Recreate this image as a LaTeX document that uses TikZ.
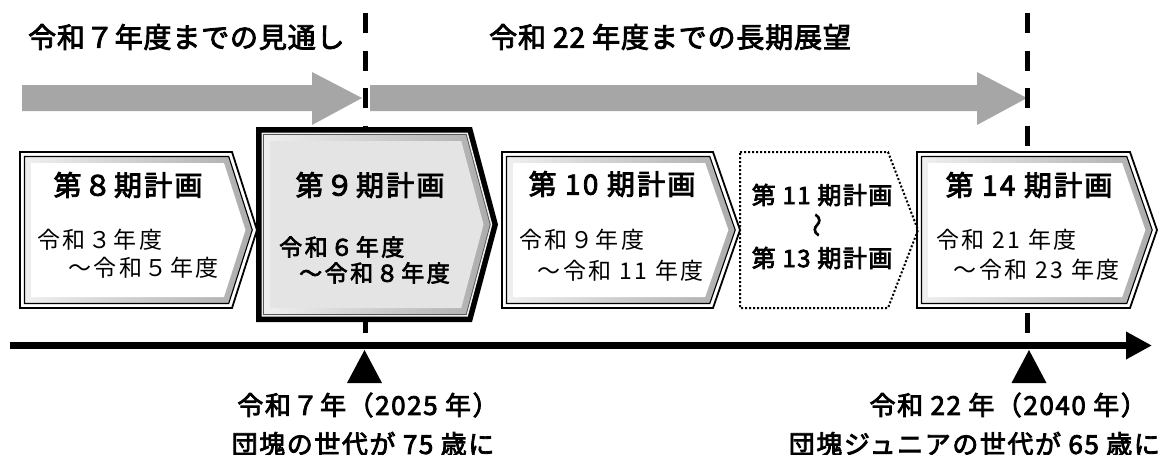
\documentclass[tikz,border=0pt]{standalone}
\usepackage{fontspec}
\setmainfont{Noto Sans CJK JP}
\newfontfamily\jpT[LetterSpace=3, FakeBold=3]{Noto Sans CJK JP}
\newfontfamily\jpB[LetterSpace=8, FakeBold=3]{Noto Sans CJK JP}
\newfontfamily\jpS[LetterSpace=11]{Noto Sans CJK JP}
\newfontfamily\jpSb[LetterSpace=11, FakeBold=3]{Noto Sans CJK JP}
\newfontfamily\jpD[LetterSpace=6, FakeBold=3]{Noto Sans CJK JP}
\usetikzlibrary{arrows.meta}
\definecolor{arrowgray}{HTML}{A6A6A6}
\definecolor{facegray}{HTML}{E4E4E4}
\newcommand{\insetpts}[6]{%
 \pgfmathsetmacro\bxM{(#2+#3)/2}%
 \pgfmathsetmacro\bxdx{#5-#4}%
 \pgfmathsetmacro\bxdy{\bxM-#2}%
 \pgfmathsetmacro\bxs{#6*sqrt(\bxdx*\bxdx+\bxdy*\bxdy)/\bxdy}%
 \pgfmathsetmacro\bxR{#4-\bxs+#6*\bxdx/\bxdy}%
 \pgfmathsetmacro\bxX{#5-\bxs}%
 \pgfmathsetmacro\bxL{#1+#6}%
 \pgfmathsetmacro\bxT{#2+#6}%
 \pgfmathsetmacro\bxB{#3-#6}%
}
\newcommand{\plainbox}[6]{%
 \insetpts{#2}{#3}{#4}{#5}{#6}{0}%
 \fill[white] (\bxL,\bxT) -- (\bxR,\bxT) -- (\bxX,\bxM) -- (\bxR,\bxB) -- (\bxL,\bxB) -- cycle;
 \draw[line width=1.8, line join=miter] (\bxL,\bxT) -- (\bxR,\bxT) -- (\bxX,\bxM) -- (\bxR,\bxB) -- (\bxL,\bxB) -- cycle;
 \coordinate (#1) at (\bxL,\bxM);
 \insetpts{#2}{#3}{#4}{#5}{#6}{4.5}%
 \shade[left color=gray!12, right color=gray!65] (\bxL,\bxT) -- (\bxR,\bxT) -- (\bxX,\bxM) -- (\bxR,\bxB) -- (\bxL,\bxB) -- cycle;
 \draw[line width=1.1, line join=miter] (\bxL,\bxT) -- (\bxR,\bxT) -- (\bxX,\bxM) -- (\bxR,\bxB) -- (\bxL,\bxB) -- cycle;
 \insetpts{#2}{#3}{#4}{#5}{#6}{11}%
 \fill[white] (\bxL,\bxT) -- (\bxR,\bxT) -- (\bxX,\bxM) -- (\bxR,\bxB) -- (\bxL,\bxB) -- cycle;
}
\tikzset{
 title/.style={font=\jpT\fontsize{28}{30}\selectfont, inner sep=0},
 boxttl/.style={font=\jpB\fontsize{28}{30}\selectfont, inner sep=0},
 boxsub/.style={font=\jpS\fontsize{23}{26}\selectfont, inner sep=0},
 boxsubb/.style={font=\jpSb\fontsize{23}{26}\selectfont, inner sep=0},
 midttl/.style={font=\jpD\fontsize{24}{26}\selectfont, inner sep=0},
 bottxt/.style={font=\jpD\fontsize{26}{28}\selectfont, inner sep=0},
 bigarrow/.style={fill=arrowgray},
 divider/.style={line width=5, dash pattern=on 20pt off 17.5pt},
 marker/.style={fill=black},
}
\begin{document}
\begin{tikzpicture}[x=1pt,y=-1pt]
\useasboundingbox (0,0) rectangle (1176,455);
% gray arrows
\fill[bigarrow] (22,85) -- (312,85) -- (312,72) -- (362,98) -- (312,125) -- (312,111) -- (22,111) -- cycle;
\fill[bigarrow] (370,85) -- (977,85) -- (977,72) -- (1027,98) -- (977,125) -- (977,111) -- (370,111) -- cycle;
% dashed dividers
\coordinate (d1a) at (365,13); \coordinate (d1b) at (365,333);
\coordinate (d2a) at (1027,13); \coordinate (d2b) at (1027,333);
\draw[divider] (d1a) -- (d1b);
\draw[divider] (d2a) -- (d2b);
% boxes
\plainbox{b8}{20}{152}{308}{232}{257}
\plainbox{b10}{502}{152}{308}{713}{740}
\plainbox{b14}{917}{152}{308}{1130}{1157}
% box 9 (highlighted)
\insetpts{256}{127}{322}{472}{498}{0}
\fill[black] (\bxL,\bxT) -- (\bxR,\bxT) -- (\bxX,\bxM) -- (\bxR,\bxB) -- (\bxL,\bxB) -- cycle;
\coordinate (b9) at (\bxL,\bxM);
\insetpts{256}{127}{322}{472}{498}{5.5}
\fill[gray!12] (\bxL,\bxT) -- (\bxR,\bxT) -- (\bxX,\bxM) -- (\bxR,\bxB) -- (\bxL,\bxB) -- cycle;
\insetpts{256}{127}{322}{472}{498}{7.5}
\shade[left color=gray!12, right color=gray!65] (\bxL,\bxT) -- (\bxR,\bxT) -- (\bxX,\bxM) -- (\bxR,\bxB) -- (\bxL,\bxB) -- cycle;
\draw[line width=0.8, gray!70!black] (\bxL,\bxT) -- (\bxR,\bxT) -- (\bxX,\bxM) -- (\bxR,\bxB) -- (\bxL,\bxB) -- cycle;
\insetpts{256}{127}{322}{472}{498}{14}
\fill[facegray] (\bxL,\bxT) -- (\bxR,\bxT) -- (\bxX,\bxM) -- (\bxR,\bxB) -- (\bxL,\bxB) -- cycle;
% dotted box 11-13
\draw[line width=2, dash pattern=on 2pt off 2pt] (740,152) -- (888,152) -- (918,230) -- (888,308) -- (740,308) -- cycle;
% timeline
\coordinate (tl0) at (10,345.5);
\coordinate (tl1) at (1152,345.5);
\draw[line width=7, -{Triangle[length=26pt,width=26pt]}] (tl0) -- (tl1);
\fill[marker] (364.5,350) -- (382,383) -- (347,383) -- cycle;
\fill[marker] (1029,350) -- (1046.5,383) -- (1011.5,383) -- cycle;
% titles
\node[title, anchor=west] (t1) at (28,37) {令和７年度までの見通し};
\node[title, anchor=west] (t2) at (489,37) {令和 22 年度までの長期展望};
% box texts
\node[boxttl] (n8) at (128,185) {第８期計画};
\node[boxsub, anchor=west] (n8a) at (37,240) {令和３年度};
\node[boxsub, anchor=east] (n8b) at (219,268) {～令和５年度};
\node[boxttl] (n9) at (370,185) {第９期計画};
\node[boxsubb, anchor=west] (n9a) at (279,247) {令和６年度};
\node[boxsubb, anchor=east] (n9b) at (450,273) {～令和８年度};
\node[boxttl] (n10) at (612,184) {第 10 期計画};
\node[boxsub, anchor=west] (n10a) at (519,240) {令和９年度};
\node[boxsub, anchor=east] (n10b) at (704,271) {～令和 11 年度};
\node[midttl] (n11) at (822,195) {第 11 期計画};
\node[midttl, rotate=90] (nw) at (820,225) {～};
\node[midttl] (n13) at (822,258) {第 13 期計画};
\node[boxttl] (n14) at (1029,185) {第 14 期計画};
\node[boxsub, anchor=west] (n14a) at (936,240) {令和 21 年度};
\node[boxsub, anchor=east] (n14b) at (1120,270) {～令和 23 年度};
% bottom texts
\node[bottxt] (m1a) at (368,405) {令和７年（2025 年）};
\node[bottxt] (m1b) at (363,444) {団塊の世代が 75 歳に};
\node[bottxt, anchor=east] (m2a) at (1147,405) {令和 22 年（2040 年）};
\node[bottxt, anchor=east] (m2b) at (1160,444) {団塊ジュニアの世代が 65 歳に};
\end{tikzpicture}
\end{document}
